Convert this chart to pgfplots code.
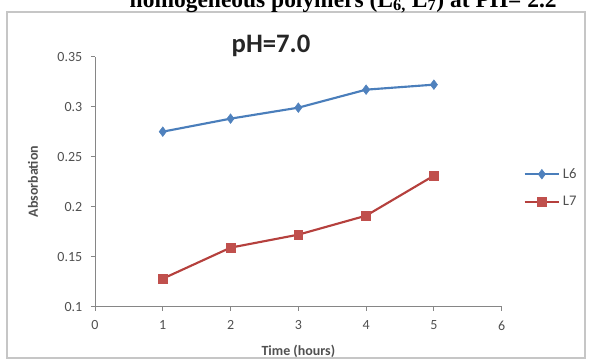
\documentclass[border=0pt]{standalone}
\usepackage{pgfplots}
\pgfplotsset{compat=1.18}
\usepackage{fontspec}
\setmainfont{Carlito}
\newfontfamily\timesfont{Liberation Serif}
\definecolor{bl}{HTML}{4A7EBB}
\definecolor{blm}{HTML}{4F81BD}
\definecolor{rd}{HTML}{B5403D}
\definecolor{rdm}{HTML}{C0504D}
\definecolor{axgray}{HTML}{868686}
\definecolor{txgray}{HTML}{505050}
\begin{document}
\begin{tikzpicture}
\useasboundingbox (0,0) rectangle (442.5pt,270pt);
\draw[gray!45, line width=0.8pt] (5.25pt,1.5pt) rectangle (438.75pt,261pt);
\node[anchor=base east, font=\timesfont\bfseries\fontsize{17.6}{20}\selectfont, inner sep=0pt] at (417.75pt,264.5pt) {homogeneous polymers (L\textsubscript{6,} L\textsubscript{7}) at PH= 2.2};
\begin{axis}[
  at={(71.25pt,40pt)}, anchor=south west,
  scale only axis, width=305pt, height=187.5pt,
  xmin=0, xmax=6, ymin=0.1, ymax=0.35,
  xtick={0,1,2,3,4,5,6},
  ytick={0.1,0.15,0.2,0.25,0.3,0.35},
  axis x line*=bottom, axis y line*=left,
  axis line style={axgray, line width=0.6pt},
  tick align=outside, major tick length=3pt,
  tick style={axgray, line width=0.6pt},
  /pgf/number format/assume math mode=true,
  ticklabel style={font=\fontsize{10.5}{12}\selectfont, text=txgray},
  yticklabel style={xshift=-3pt},
  xticklabel style={yshift=-4pt},
  xlabel={Time (hours)}, ylabel={Absorbation},
  every axis x label/.style={at={(axis description cs:0.5,-0.1773)}, anchor=center, font=\bfseries\fontsize{10.5}{12}\selectfont, text=txgray},
  every axis y label/.style={at={(axis description cs:-0.1525,0.5)}, anchor=center, rotate=90, font=\bfseries\fontsize{10.5}{12}\selectfont, text=txgray},
  legend style={at={(axis description cs:1.053,0.475)}, anchor=west, draw=none, fill=none,
    font=\fontsize{11}{12}\selectfont, text=txgray, row sep=8pt, inner sep=0pt,
    /tikz/every even column/.append style={column sep=1pt}},
  legend cell align=left,
  legend image code/.code={\draw[#1, mark repeat=2, mark phase=2] plot coordinates {(0pt,0pt) (13pt,0pt) (26pt,0pt)};},
]
\addplot[bl, line width=1.6pt, mark=diamond*, mark size=3.6pt, mark options={fill=blm, draw=blm, line width=0.4pt}] coordinates {
  (1,0.275) (2,0.288) (3,0.299) (4,0.317) (5,0.322)};
\addlegendentry{L6}
\addplot[rd, line width=1.6pt, mark=square*, mark size=3.3pt, mark options={fill=rdm, draw=rdm, line width=0.4pt}] coordinates {
  (1,0.128) (2,0.159) (3,0.172) (4,0.191) (5,0.231)};
\addlegendentry{L7}
\end{axis}
\node[font=\bfseries\fontsize{20}{22}\selectfont, text=black!85] at (203.25pt,235.5pt) {pH=7.0};
\end{tikzpicture}
\end{document}
